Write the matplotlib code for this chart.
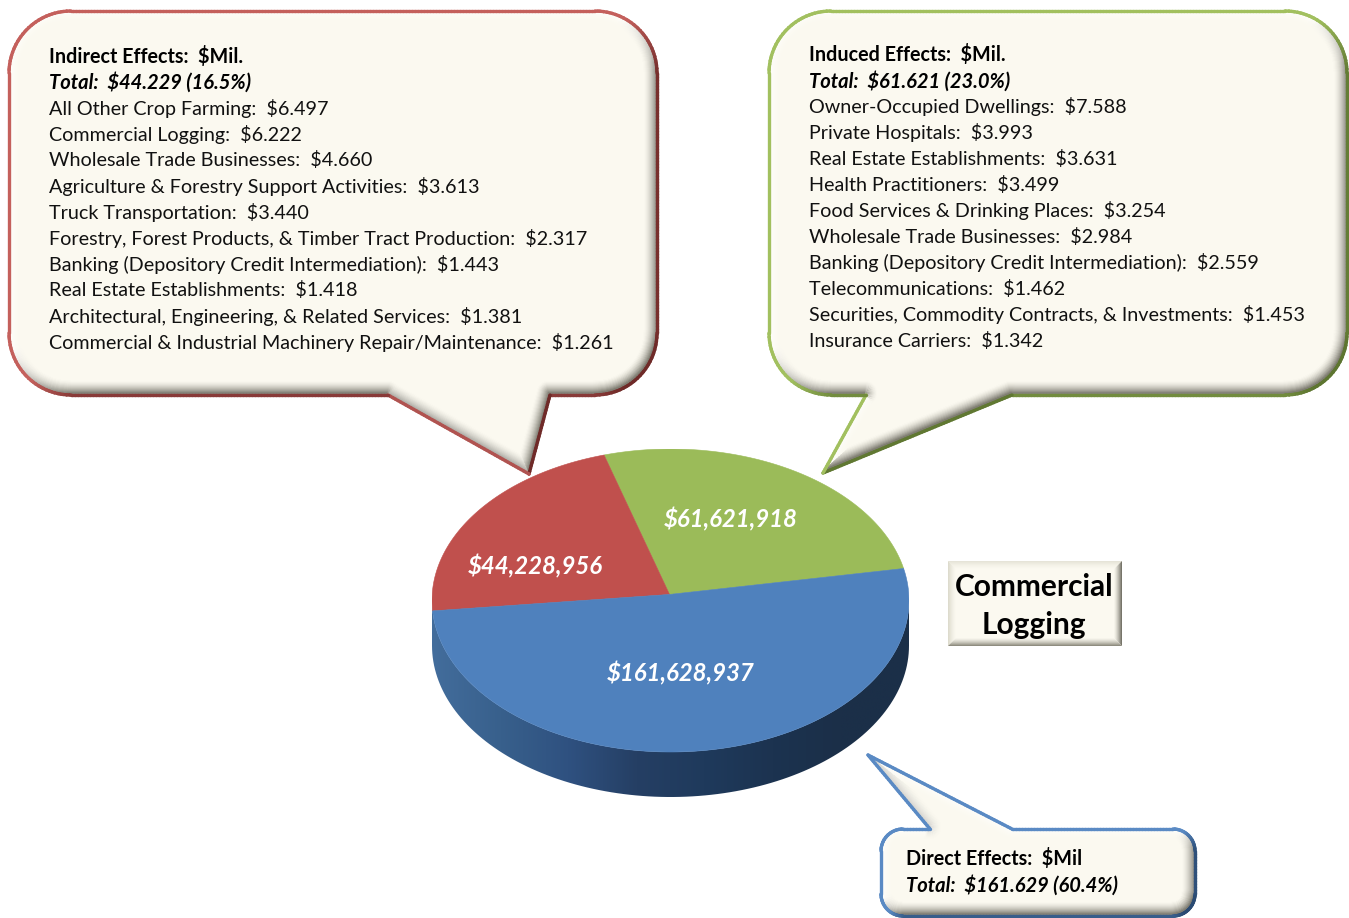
"""
Commercial Logging economic effects: tilted pie with three callouts
"""
import matplotlib
matplotlib.use('Agg')
import matplotlib.pyplot as plt
from matplotlib.collections import LineCollection
from matplotlib.colors import LinearSegmentedColormap, to_rgb
from matplotlib.patches import Polygon
import numpy as np

plt.rcParams['font.family'] = ['Lato', 'DejaVu Sans']

W, H = 1349, 918

# pie values, in drawing order counter-clockwise from the right edge
effect_names = ['Induced', 'Indirect', 'Direct']
effect_values = [61621918, 44228956, 161628937]
effect_colors = ['#9bbb59', '#c0504d', '#4f81bd']

indirect_total = '$44.229 (16.5%)'
indirect_names = ['All Other Crop Farming', 'Commercial Logging', 'Wholesale Trade Businesses',
                  'Agriculture & Forestry Support Activities', 'Truck Transportation',
                  'Forestry, Forest Products, & Timber Tract Production',
                  'Banking (Depository Credit Intermediation)', 'Real Estate Establishments',
                  'Architectural, Engineering, & Related Services',
                  'Commercial & Industrial Machinery Repair/Maintenance']
indirect_values = [6.497, 6.222, 4.660, 3.613, 3.440, 2.317, 1.443, 1.418, 1.381, 1.261]

induced_total = '$61.621 (23.0%)'
induced_names = ['Owner-Occupied Dwellings', 'Private Hospitals', 'Real Estate Establishments',
                 'Health Practitioners', 'Food Services & Drinking Places',
                 'Wholesale Trade Businesses', 'Banking (Depository Credit Intermediation)',
                 'Telecommunications', 'Securities, Commodity Contracts, & Investments',
                 'Insurance Carriers']
induced_values = [7.588, 3.993, 3.631, 3.499, 3.254, 2.984, 2.559, 1.462, 1.453, 1.342]
direct_total = '$161.629 (60.4%)'

CREAM = np.array(to_rgb('#fbf9f0'))
TEXT_SIZE = 14.2


def view_angle(theta):
    # the tilted view squeezes the near side of the pie
    return theta + 30.13 + 18.54 * np.sin(np.radians(theta - 104.75))


def arc(cx, cy, r, a0, a1, n=24):
    t = np.radians(np.linspace(a0, a1, n))
    return np.column_stack([cx + r * np.cos(t), cy + r * np.sin(t)])


def bubble_points(x0, y0, x1, y1, r, tail, side='bottom'):
    # rounded box with a pointer, clockwise on screen; tail = (start x, tip x, tip y, end x)
    xa, tx, ty, xb = tail
    top = [arc(x0 + r, y0 + r, r, 180, 270), arc(x1 - r, y0 + r, r, 270, 360)]
    bottom = [arc(x1 - r, y1 - r, r, 0, 90), arc(x0 + r, y1 - r, r, 90, 180)]
    wedge = np.array([[xb, y1], [tx, ty], [xa, y1]])
    wedge_top = np.array([[xa, y0], [tx, ty], [xb, y0]])
    if side == 'bottom':
        parts = [top[0], top[1], bottom[0], wedge, bottom[1]]
    else:
        parts = [top[0], wedge_top, top[1], bottom[0], bottom[1]]
    pts = np.vstack(parts)
    # resample so the shading has short segments everywhere
    seg = np.hypot(*np.diff(pts, axis=0).T)
    s = np.r_[0, np.cumsum(seg)]
    keep = np.r_[True, seg > 1e-6]
    pts, s = pts[keep], s[keep]
    q = np.arange(0, s[-1], 3.0)
    q = np.sort(np.r_[q, s])
    return np.column_stack([np.interp(q, s, pts[:, 0]), np.interp(q, s, pts[:, 1])])


def segments(pts):
    closed = np.vstack([pts, pts[:1]])
    return np.stack([closed[:-1], closed[1:]], axis=1)


def outward_normals(pts):
    # points run clockwise on screen and y grows downward
    segs = segments(pts)
    d = segs[:, 1] - segs[:, 0]
    d = d / np.maximum(np.hypot(d[:, 0], d[:, 1]), 1e-6)[:, None]
    return d[:, 1], -d[:, 0]


def draw_bubble(ax, pts, light, dark):
    shape = Polygon(pts, closed=True, fc=CREAM, ec='none', zorder=2)
    ax.add_patch(shape)
    nx, ny = outward_normals(pts)
    white = np.array([1, 1, 1.0])
    grey = np.array(to_rgb('#6f6d62'))
    face = np.clip(0.65 * ny + 0.5 * nx + 0.3, 0, 1)[:, None]
    edge = white + (grey - white) * face
    shifted = segments(pts + np.array([-1.0, -2.0]))
    for w in range(13, 0, -1):
        t = (1 - w / 13.0) ** 1.6
        lc = LineCollection(shifted, colors=CREAM + (edge - CREAM) * t, linewidths=2 * w * 0.72,
                            capstyle='round', zorder=3)
        ax.add_collection(lc)
        lc.set_clip_path(shape)
    shade = np.clip(0.6 * ny + 0.8 * nx + 0.1, 0, 1)[:, None]
    line = np.array(to_rgb(light)) + (np.array(to_rgb(dark)) - np.array(to_rgb(light))) * shade
    ax.add_collection(LineCollection(segments(pts), colors=line, linewidths=2.4,
                                     capstyle='round', zorder=4))


def draw_list(ax, x, y, head, total, names, values):
    ax.text(x, y, head, fontsize=TEXT_SIZE, fontweight='bold', va='center', zorder=5)
    ax.text(x, y + 26, 'Total:  ' + total, fontsize=TEXT_SIZE + 0.3, fontweight='bold',
            fontstyle='italic', va='center', zorder=5)
    for i, (name, val) in enumerate(zip(names, values)):
        ax.text(x, y + 52 + 26 * i, f'{name}:  ${val:.3f}', fontsize=TEXT_SIZE, color='#111111',
                va='center', zorder=5)


fig = plt.figure(figsize=(W / 100, H / 100), dpi=100, facecolor='white')

# pie axes: top face is the unit circle, squashed by the axes box
DEPTH = 45 / 151.5
px0, px1, py0, py1 = 432, 909, 449, 797
ax_pie = fig.add_axes([px0 / W, 1 - py1 / H, (px1 - px0) / W, (py1 - py0) / H])
ax_pie.set_xlim(-1, 1)
ax_pie.set_ylim(-1 - DEPTH, 1)
ax_pie.axis('off')

rim = np.radians(np.linspace(180, 360, 120))
wall = np.vstack([np.column_stack([np.cos(rim), np.sin(rim)]),
                  np.column_stack([np.cos(rim[::-1]), np.sin(rim[::-1]) - DEPTH])])
wall_patch = Polygon(wall, closed=True, fc='none', ec='none')
ax_pie.add_patch(wall_patch)
wall_cmap = LinearSegmentedColormap.from_list(
    'wall', ['#436d9c', '#38608c', '#2f5180', '#253f64', '#1f3a5c', '#1c3350', '#1b2f48', '#1b2f48'])
img = ax_pie.imshow(np.linspace(0, 1, 256)[None, :], cmap=wall_cmap, aspect='auto',
                    extent=(-1, 1, -1 - DEPTH, 0.2), zorder=1)
img.set_clip_path(wall_patch)
ax_pie.set_xlim(-1, 1)
ax_pie.set_ylim(-1 - DEPTH, 1)

edges = 360 * np.r_[0, np.cumsum(effect_values)] / np.sum(effect_values)
for a0, a1, col in zip(edges[:-1], edges[1:], effect_colors):
    phi = np.radians(view_angle(np.linspace(a0, a1, 150)))
    xs = np.r_[-0.004, np.cos(phi)]
    ys = np.r_[0.04, np.sin(phi)]
    ax_pie.fill(xs, ys, color=col, lw=0.4, zorder=2)

# overlay in image pixels for the callouts and text
ax = fig.add_axes([0, 0, 1, 1])
ax.set_xlim(0, W)
ax.set_ylim(H, 0)
ax.axis('off')
ax.patch.set_alpha(0)

for val, (lx, ly) in zip(effect_values, [(731, 519), (535, 566), (681, 673)]):
    ax.text(lx, ly, f'${val:,}', color='white', fontsize=17.3, fontweight='bold',
            fontstyle='italic', ha='center', va='center', zorder=5)

left = bubble_points(9, 11, 657, 395, 62, (388, 529, 474, 550))
draw_bubble(ax, left, '#c4605c', '#6f2a28')
draw_list(ax, 49, 56, 'Indirect Effects:  $Mil.', indirect_total, indirect_names, indirect_values)

right = bubble_points(769, 11, 1347, 395, 62, (866, 823, 473, 1012))
draw_bubble(ax, right, '#a2c05f', '#5d7530')
draw_list(ax, 809, 55, 'Induced Effects:  $Mil.', induced_total, induced_names, induced_values)

lower = bubble_points(881, 829, 1195, 916, 22, (930, 868, 755, 1012), side='top')
draw_bubble(ax, lower, '#5a8ac4', '#2a4a72')
ax.text(906, 859, 'Direct Effects:  $Mil', fontsize=TEXT_SIZE, fontweight='bold', va='center', zorder=5)
ax.text(906, 885, 'Total:  ' + direct_total, fontsize=TEXT_SIZE + 0.3, fontweight='bold',
        fontstyle='italic', va='center', zorder=5)

# bevelled title box, each side fades into the cream face
bx0, by0, bx1, by1 = 948, 561, 1122, 646
ax.add_patch(Polygon([(bx0, by0), (bx1, by0), (bx1, by1), (bx0, by1)], fc=CREAM, ec='none', zorder=2))
side_colors = [to_rgb('#e6e4d8'), to_rgb('#dddbcd'), to_rgb('#77756a'), to_rgb('#8f8d80')]
for i in range(8):
    t = (1 - i / 8.0) ** 1.5
    a, b = i, i + 1
    bands = [[(bx0 + a, by0 + a), (bx1 - a, by0 + a), (bx1 - b, by0 + b), (bx0 + b, by0 + b)],
             [(bx0 + a, by0 + a), (bx0 + b, by0 + b), (bx0 + b, by1 - b), (bx0 + a, by1 - a)],
             [(bx1 - a, by0 + a), (bx1 - a, by1 - a), (bx1 - b, by1 - b), (bx1 - b, by0 + b)],
             [(bx0 + a, by1 - a), (bx1 - a, by1 - a), (bx1 - b, by1 - b), (bx0 + b, by1 - b)]]
    for verts, col in zip(bands, side_colors):
        ax.add_patch(Polygon(verts, fc=CREAM + (np.array(col) - CREAM) * t, ec='none', zorder=3))
ax.text(1034, 587, 'Commercial', fontsize=21.5, fontweight='bold', ha='center', va='center', zorder=5)
ax.text(1034, 625, 'Logging', fontsize=21.5, fontweight='bold', ha='center', va='center', zorder=5)

fig.savefig('out.png', dpi=100)
